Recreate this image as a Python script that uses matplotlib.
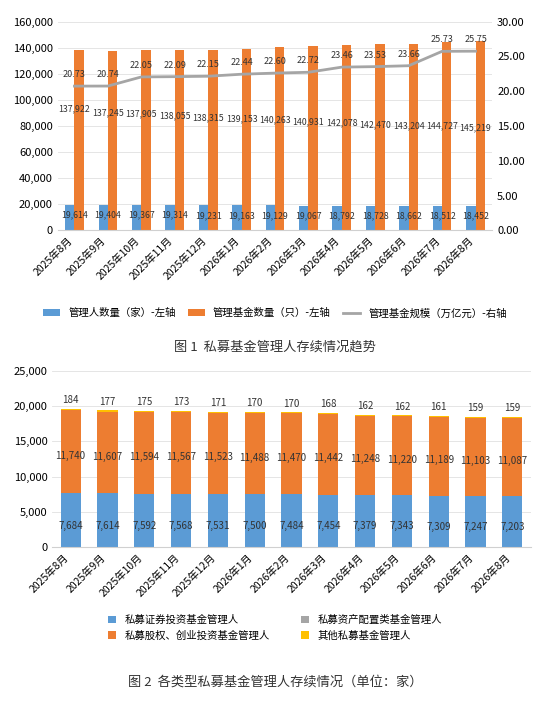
import matplotlib
matplotlib.use("Agg")
import matplotlib.pyplot as plt
import numpy as np

plt.rcParams['font.family'] = ['Noto Sans CJK SC', 'DejaVu Sans']

months = ["2025年8月","2025年9月","2025年10月","2025年11月","2025年12月","2026年1月","2026年2月",
          "2026年3月","2026年4月","2026年5月","2026年6月","2026年7月","2026年8月"]
managers = [19614,19404,19367,19314,19231,19163,19129,19067,18792,18728,18662,18512,18452]
funds = [137922,137245,137905,138055,138315,139153,140263,140931,142078,142470,143204,144727,145219]
scale = [20.73,20.74,22.05,22.09,22.15,22.44,22.60,22.72,23.46,23.53,23.66,25.73,25.75]

sec = [7684,7614,7592,7568,7531,7500,7484,7454,7379,7343,7309,7247,7203]
equity = [11740,11607,11594,11567,11523,11488,11470,11442,11248,11220,11189,11103,11087]
alloc = [6,6,6,6,6,5,5,3,3,3,3,3,3]
other = [184,177,175,173,171,170,170,168,162,162,161,159,159]

BLUE, ORANGE, GRAY, YELLOW = "#5B9BD5", "#ED7D31", "#A5A5A5", "#FFC000"
fig = plt.figure(figsize=(5.5, 7.2), dpi=100)
x = np.arange(len(months))

# ---- Chart 1
ax = fig.add_axes([0.105, 0.68, 0.79, 0.29])
w = 0.28
ax.bar(x - w/2, managers, w, color=BLUE, label="管理人数量（家）-左轴")
ax.bar(x + w/2, funds, w, color=ORANGE, label="管理基金数量（只）-左轴")
ax.set_ylim(0, 160000)
ax.set_yticks(range(0, 160001, 20000))
ax.set_yticklabels([f"{v:,}" for v in range(0, 160001, 20000)], fontsize=8)
ax.set_xlim(-0.5, len(months) - 0.5)
ax.set_xticks(x)
ax.set_xticklabels(months, rotation=45, ha="right", fontsize=7.5)
ax.tick_params(length=0)
for s in ["top", "right", "left"]:
    ax.spines[s].set_visible(False)
ax.spines["bottom"].set_color("#d0d0d0")
ax.grid(axis="y", color="#e0e0e0", lw=0.6)
ax.set_axisbelow(True)
for i, v in enumerate(managers):
    ax.text(i, v * 0.6, f"{v:,}", ha="center", va="center", fontsize=6.3, color="#333")
for i, v in enumerate(funds):
    ax.text(i, v - 45000 - i * 1800, f"{v:,}", ha="center", va="center", fontsize=6.3, color="#333")
ax2 = ax.twinx()
ax2.plot(x, scale, color=GRAY, lw=2, label="管理基金规模（万亿元）-右轴")
ax2.set_ylim(0, 30)
ax2.set_yticks(range(0, 31, 5))
ax2.set_yticklabels([f"{v:.2f}" for v in range(0, 31, 5)], fontsize=8)
ax2.tick_params(length=0)
for s in ["top", "right", "left", "bottom"]:
    ax2.spines[s].set_visible(False)
for i, v in enumerate(scale):
    ax2.text(i, v + 1.0, f"{v:.2f}", ha="center", va="bottom", fontsize=6.5, color="#333")
h1, l1 = ax.get_legend_handles_labels()
h2, l2 = ax2.get_legend_handles_labels()
fig.legend(h1 + h2, l1 + l2, loc="center", bbox_to_anchor=(0.5, 0.565), ncol=3, frameon=False,
           fontsize=7.5, handlelength=1.6, columnspacing=1.2)
fig.text(0.5, 0.513, "图 1  私募基金管理人存续情况趋势", ha="center", fontsize=9.5, color="#333")

# ---- Chart 2
bx = fig.add_axes([0.095, 0.24, 0.87, 0.245])
w2 = 0.55
b = np.zeros(len(months))
for vals, col, lab in [(sec, BLUE, "私募证券投资基金管理人"), (equity, ORANGE, "私募股权、创业投资基金管理人"),
                       (alloc, GRAY, "私募资产配置类基金管理人"), (other, YELLOW, "其他私募基金管理人")]:
    bx.bar(x, vals, w2, bottom=b, color=col, label=lab)
    b = b + np.array(vals)
for i in range(len(months)):
    bx.text(i, sec[i] * 0.4, f"{sec[i]:,}", ha="center", va="center", fontsize=7, color="#333")
    bx.text(i, sec[i] + equity[i] * 0.45, f"{equity[i]:,}", ha="center", va="center", fontsize=7, color="#333")
    bx.text(i, b[i] + 500, f"{other[i]:,}", ha="center", va="bottom", fontsize=7, color="#333")
bx.set_ylim(0, 25000)
bx.set_yticks(range(0, 25001, 5000))
bx.set_yticklabels([f"{v:,}" for v in range(0, 25001, 5000)], fontsize=8)
bx.set_xlim(-0.5, len(months) - 0.5)
bx.set_xticks(x)
bx.set_xticklabels(months, rotation=45, ha="right", fontsize=7.5)
bx.tick_params(length=0)
for s in ["top", "right", "left"]:
    bx.spines[s].set_visible(False)
bx.spines["bottom"].set_color("#d0d0d0")
bx.grid(axis="y", color="#e0e0e0", lw=0.6)
bx.set_axisbelow(True)
fig.legend(*bx.get_legend_handles_labels(), loc="center", bbox_to_anchor=(0.5, 0.128), ncol=2,
           frameon=False, fontsize=7.5, handlelength=0.8, columnspacing=3)
fig.text(0.5, 0.048, "图 2  各类型私募基金管理人存续情况（单位：家）", ha="center", fontsize=9.5, color="#333")

fig.savefig("out.png", dpi=100)
